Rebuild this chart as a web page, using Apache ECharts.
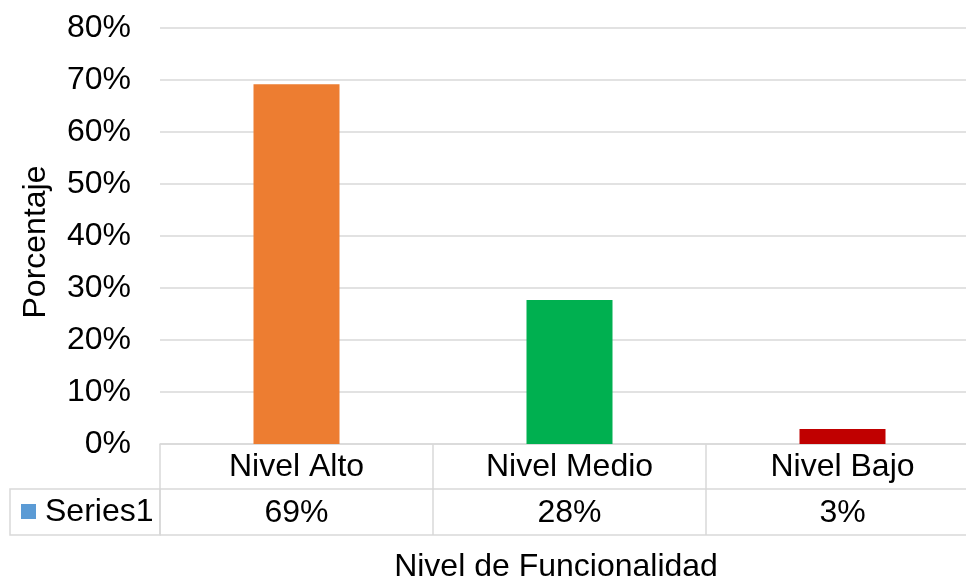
<!DOCTYPE html>
<html><head><meta charset="utf-8">
<script src="https://cdn.jsdelivr.net/npm/echarts@6/dist/echarts.min.js"></script>
<style>html,body{margin:0;padding:0;background:#fff;overflow:hidden;width:966px;height:580px}#c{width:979px;height:580px}</style>
</head><body><div id="c"></div>
<script>
var categories = ['Nivel Alto', 'Nivel Medio', 'Nivel Bajo'];
var values = [0.692, 0.277, 0.029];
var barColors = ['#ED7D31', '#00B050', '#C00000'];
var seriesName = 'Series1';
var yTicks = [0, 0.1, 0.2, 0.3, 0.4, 0.5, 0.6, 0.7, 0.8];
var yTitle = 'Porcentaje';
var xTitle = 'Nivel de Funcionalidad';

var FONT = 'Liberation Sans, Arial, sans-serif';
var GRAY = '#D9D9D9';
var chart = echarts.init(document.getElementById('c'));
function pct(v){ return Math.round(v*100) + '%'; }
var option = {
  animation: false,
  grid: { left: 160, right: 0, top: 28, bottom: 136 },
  xAxis: [
    { type: 'category', data: categories, position: 'bottom',
      axisLine: { show: true, lineStyle: { color: GRAY, width: 1.5 } },
      axisTick: { show: true, length: 91, inside: false, lineStyle: { color: GRAY, width: 1.5 } },
      axisLabel: { margin: 7, fontFamily: FONT, fontSize: 32, color: '#000' } },
    { type: 'category', data: values.map(pct), position: 'bottom', offset: 45,
      axisLine: { show: true, lineStyle: { color: GRAY, width: 1.5 } },
      axisTick: { show: false },
      axisLabel: { margin: 8, fontFamily: FONT, fontSize: 32, color: '#000' } },
    { type: 'category', data: categories, position: 'bottom', offset: 91,
      axisLine: { show: true, lineStyle: { color: GRAY, width: 1.5 } },
      axisTick: { show: false }, axisLabel: { show: false } }
  ],
  yAxis: { type: 'value', min: yTicks[0], max: yTicks[yTicks.length-1], interval: 0.1,
    axisLine: { show: false }, axisTick: { show: false },
    axisLabel: { margin: 29, fontFamily: FONT, fontSize: 32, color: '#000', formatter: pct },
    splitLine: { lineStyle: { color: GRAY, width: 1.5 } } },
  series: [{ name: seriesName, type: 'bar', xAxisIndex: 0, barWidth: 86,
    data: values.map(function(v,i){ return { value: v, itemStyle: { color: barColors[i] } }; }) }],
  graphic: [
    { type: 'rect', shape: { x: 10, y: 489, width: 150, height: 46 },
      style: { fill: 'none', stroke: GRAY, lineWidth: 1.5 } },
    { type: 'rect', shape: { x: 21, y: 504, width: 15, height: 15 }, style: { fill: '#5B9BD5' } },
    { type: 'text', x: 45, y: 512, style: { text: seriesName, font: '32px ' + FONT, fill: '#000', verticalAlign: 'middle' } },
    { type: 'text', x: 556, y: 567, style: { text: xTitle, font: '32px ' + FONT, fill: '#000', align: 'center', verticalAlign: 'middle' } },
    { type: 'text', x: 36, y: 242, rotation: Math.PI/2, style: { text: yTitle, font: '32px ' + FONT, fill: '#000', align: 'center', verticalAlign: 'middle' } }
  ]
};
chart.setOption(option);
</script></body></html>
